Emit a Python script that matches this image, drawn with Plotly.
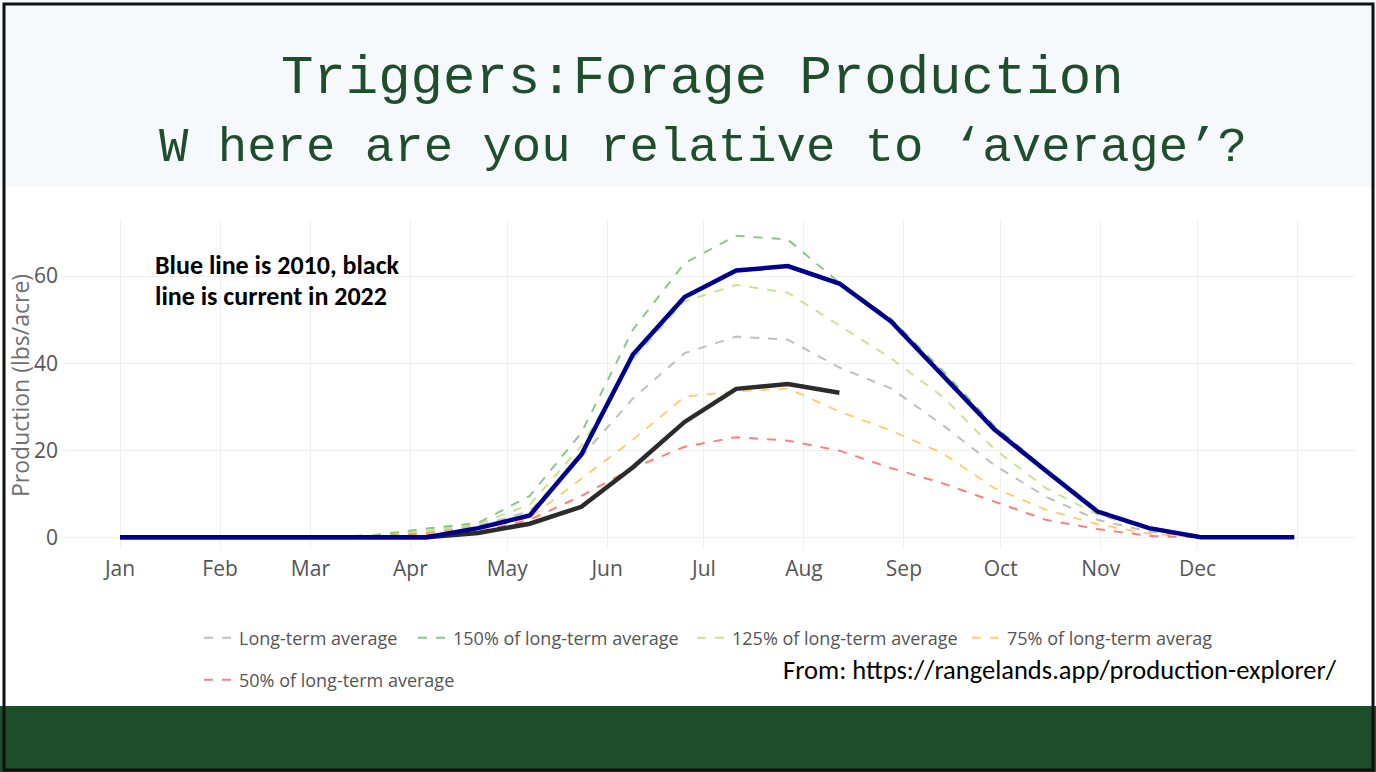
import plotly.graph_objects as go

# ---------------- data ----------------
dates = ["2022-01-01", "2022-01-16", "2022-02-01", "2022-02-17", "2022-03-05", "2022-03-21",
         "2022-04-06", "2022-04-22", "2022-05-08", "2022-05-24", "2022-06-09", "2022-06-25",
         "2022-07-11", "2022-07-27", "2022-08-12", "2022-08-28", "2022-09-13", "2022-09-29",
         "2022-10-15", "2022-10-31", "2022-11-16", "2022-12-02", "2022-12-18", "2022-12-31"]

long_term_avg = [0, 0, 0, 0, 0, 0.2, 1.0, 2.6, 6.0, 18.5, 31.9, 42.3, 46.1, 45.4, 39.0, 34.2,
                 25.8, 16.6, 9.3, 4.0, 1.3, 0, 0, 0]
pct150 = [0, 0, 0, 0, 0, 0.5, 2.0, 3.3, 9.5, 24.0, 47.7, 63.0, 69.3, 68.4, 58.5, 50.2,
          38.3, 25.6, 15.6, 6.3, 2.3, 0.3, 0, 0]
pct125 = [0, 0, 0, 0, 0, 0.3, 1.5, 3.0, 7.5, 21.0, 40.8, 54.2, 58.0, 56.2, 48.7, 41.1,
          32.3, 20.3, 11.3, 5.2, 1.8, 0, 0, 0]
pct75 = [0, 0, 0, 0, 0, 0.1, 1.0, 2.0, 4.5, 13.5, 22.4, 32.3, 33.5, 34.2, 28.9, 24.5,
         19.3, 11.3, 6.3, 3.0, 0.8, 0, 0, 0]
pct50 = [0, 0, 0, 0, 0, 0, 0.5, 1.3, 4.0, 9.5, 15.9, 20.8, 23.0, 22.2, 19.9, 15.9,
         12.4, 8.2, 4.0, 1.9, 0.3, 0, 0, 0]
year2010 = [0, 0, 0, 0, 0, 0, 0, 2.1, 5.0, 19.0, 42.0, 55.2, 61.3, 62.3, 58.3, 49.6,
            37.2, 24.8, 15.3, 5.9, 2.1, 0, 0, 0]
year2022 = [0, 0, 0, 0, 0, 0, 0, 1.0, 3.1, 7.0, 16.1, 26.5, 34.1, 35.2, 33.2]

tick_dates = ["2022-01-01", "2022-02-01", "2022-03-01", "2022-04-01", "2022-05-01", "2022-06-01",
              "2022-07-01", "2022-08-01", "2022-09-01", "2022-10-01", "2022-11-01", "2022-12-01",
              "2023-01-01"]
tick_labels = ["Jan", "Feb", "Mar", "Apr", "May", "Jun", "Jul", "Aug", "Sep", "Oct", "Nov", "Dec", ""]
y_ticks = [0, 20, 40, 60]

legend_names = ["Long-term average", "150% of long-term average", "125% of long-term average",
                "75% of long-term averag", "50% of long-term average"]

# ---------------- layout geometry ----------------
W, H = 1376, 772
L, R, T, B = 62, 1355, 220, 549


def px_x(px):
    return (px - L) / (R - L)


def px_y(py):
    return (B - py) / (B - T)


fig = go.Figure()

dashed = [
    (long_term_avg, legend_names[0], "rgba(128,128,128,0.5)", "legend", 169),
    (pct150, legend_names[1], "rgba(0,128,0,0.45)", "legend", 234),
    (pct125, legend_names[2], "rgba(154,205,50,0.55)", "legend", 230),
    (pct75, legend_names[3], "rgba(255,165,0,0.55)", "legend", 230),
    (pct50, legend_names[4], "rgba(255,0,0,0.5)", "legend2", 240),
]
for vals, name, col, leg, lw in dashed:
    fig.add_trace(go.Scatter(
        x=dates, y=vals, name=name, mode="lines",
        line=dict(color=col, width=2, dash="dash"),
        legend=leg, legendwidth=lw,
    ))

fig.add_trace(go.Scatter(x=dates[:len(year2022)], y=year2022, name="2022", mode="lines",
                         line=dict(color="#2b2b2b", width=4.5), showlegend=False))
fig.add_trace(go.Scatter(x=dates, y=year2010, name="2010", mode="lines",
                         line=dict(color="#00008b", width=4.5), showlegend=False))

title_color = "#1f4e2c"
note_font = dict(family="Carlito, Lato, sans-serif", size=26, color="#000000")
annotations = [
    dict(text="Triggers:Forage Production", x=px_x(702), y=px_y(78), xref="paper", yref="paper",
         xanchor="center", yanchor="middle", showarrow=False,
         font=dict(family="Liberation Mono, Courier New, monospace", size=54, color=title_color)),
    dict(text="W here are you relative to ‘average’?", x=px_x(703), y=px_y(148), xref="paper",
         yref="paper", xanchor="center", yanchor="middle", showarrow=False,
         font=dict(family="Liberation Mono, Courier New, monospace", size=49, color=title_color)),
    dict(text="<b>Blue line is 2010, black</b>", x=px_x(153), y=px_y(265), xref="paper",
         yref="paper", xanchor="left", yanchor="middle", showarrow=False, font=note_font),
    dict(text="<b>line is current in 2022</b>", x=px_x(153), y=px_y(296), xref="paper",
         yref="paper", xanchor="left", yanchor="middle", showarrow=False, font=note_font),
    dict(text="From: https://rangelands.app/production-explorer/", x=px_x(781), y=px_y(670),
         xref="paper", yref="paper", xanchor="left", yanchor="middle", showarrow=False,
         font=dict(family="Carlito, Lato, sans-serif", size=26.5, color="#000000")),
    dict(text="Production (lbs/acre)", x=px_x(20), y=px_y(386), xref="paper", yref="paper",
         xanchor="center", yanchor="middle", showarrow=False, textangle=-90,
         font=dict(family="Open Sans, sans-serif", size=23, color="#707070")),
]

shapes = [
    # title band
    dict(type="rect", xref="paper", yref="paper", x0=px_x(0), x1=px_x(W), y0=px_y(187), y1=px_y(0),
         fillcolor="#f6f9fc", line=dict(width=0), layer="below"),
    # bottom green band
    dict(type="rect", xref="paper", yref="paper", x0=px_x(0), x1=px_x(W), y0=px_y(W), y1=px_y(706),
         fillcolor="#1e4d2b", line=dict(width=0), layer="below"),
    # slide border
    dict(type="rect", xref="paper", yref="paper", x0=px_x(4), x1=px_x(1373), y0=px_y(770), y1=px_y(4),
         fillcolor="rgba(0,0,0,0)", line=dict(color="#111111", width=3), layer="above"),
]

legend_font = dict(family="Open Sans, sans-serif", size=18, color="#555555")

fig.update_layout(
    width=W, height=H,
    margin=dict(l=L, r=W - R, t=T, b=H - B, pad=0),
    paper_bgcolor="#ffffff", plot_bgcolor="#ffffff",
    showlegend=True,
    legend=dict(orientation="h", x=px_x(199), y=px_y(638), xanchor="left", yanchor="middle",
                font=legend_font, bgcolor="rgba(0,0,0,0)"),
    legend2=dict(orientation="h", x=px_x(199), y=px_y(680), xanchor="left", yanchor="middle",
                 font=legend_font, bgcolor="rgba(0,0,0,0)"),
    xaxis=dict(type="date", range=["2021-12-14", "2023-01-18 20:00"], tickmode="array",
               tickvals=tick_dates, ticktext=tick_labels, showgrid=True, gridcolor="#efefef",
               zeroline=False, showline=False, ticks="", ticklabelstandoff=5,
               tickfont=dict(family="Open Sans, sans-serif", size=21, color="#555555")),
    yaxis=dict(range=[-2.7, 72.9], tickmode="array", tickvals=y_ticks, showgrid=True,
               gridcolor="#efefef", zeroline=False, showline=False, ticks="", ticklabelstandoff=3,
               tickfont=dict(family="Open Sans, sans-serif", size=21, color="#555555")),
    annotations=annotations,
    shapes=shapes,
)

fig.write_html("out.html", config={"displayModeBar": False},
               post_script="document.body.style.margin='0';document.body.style.overflow='hidden';")
